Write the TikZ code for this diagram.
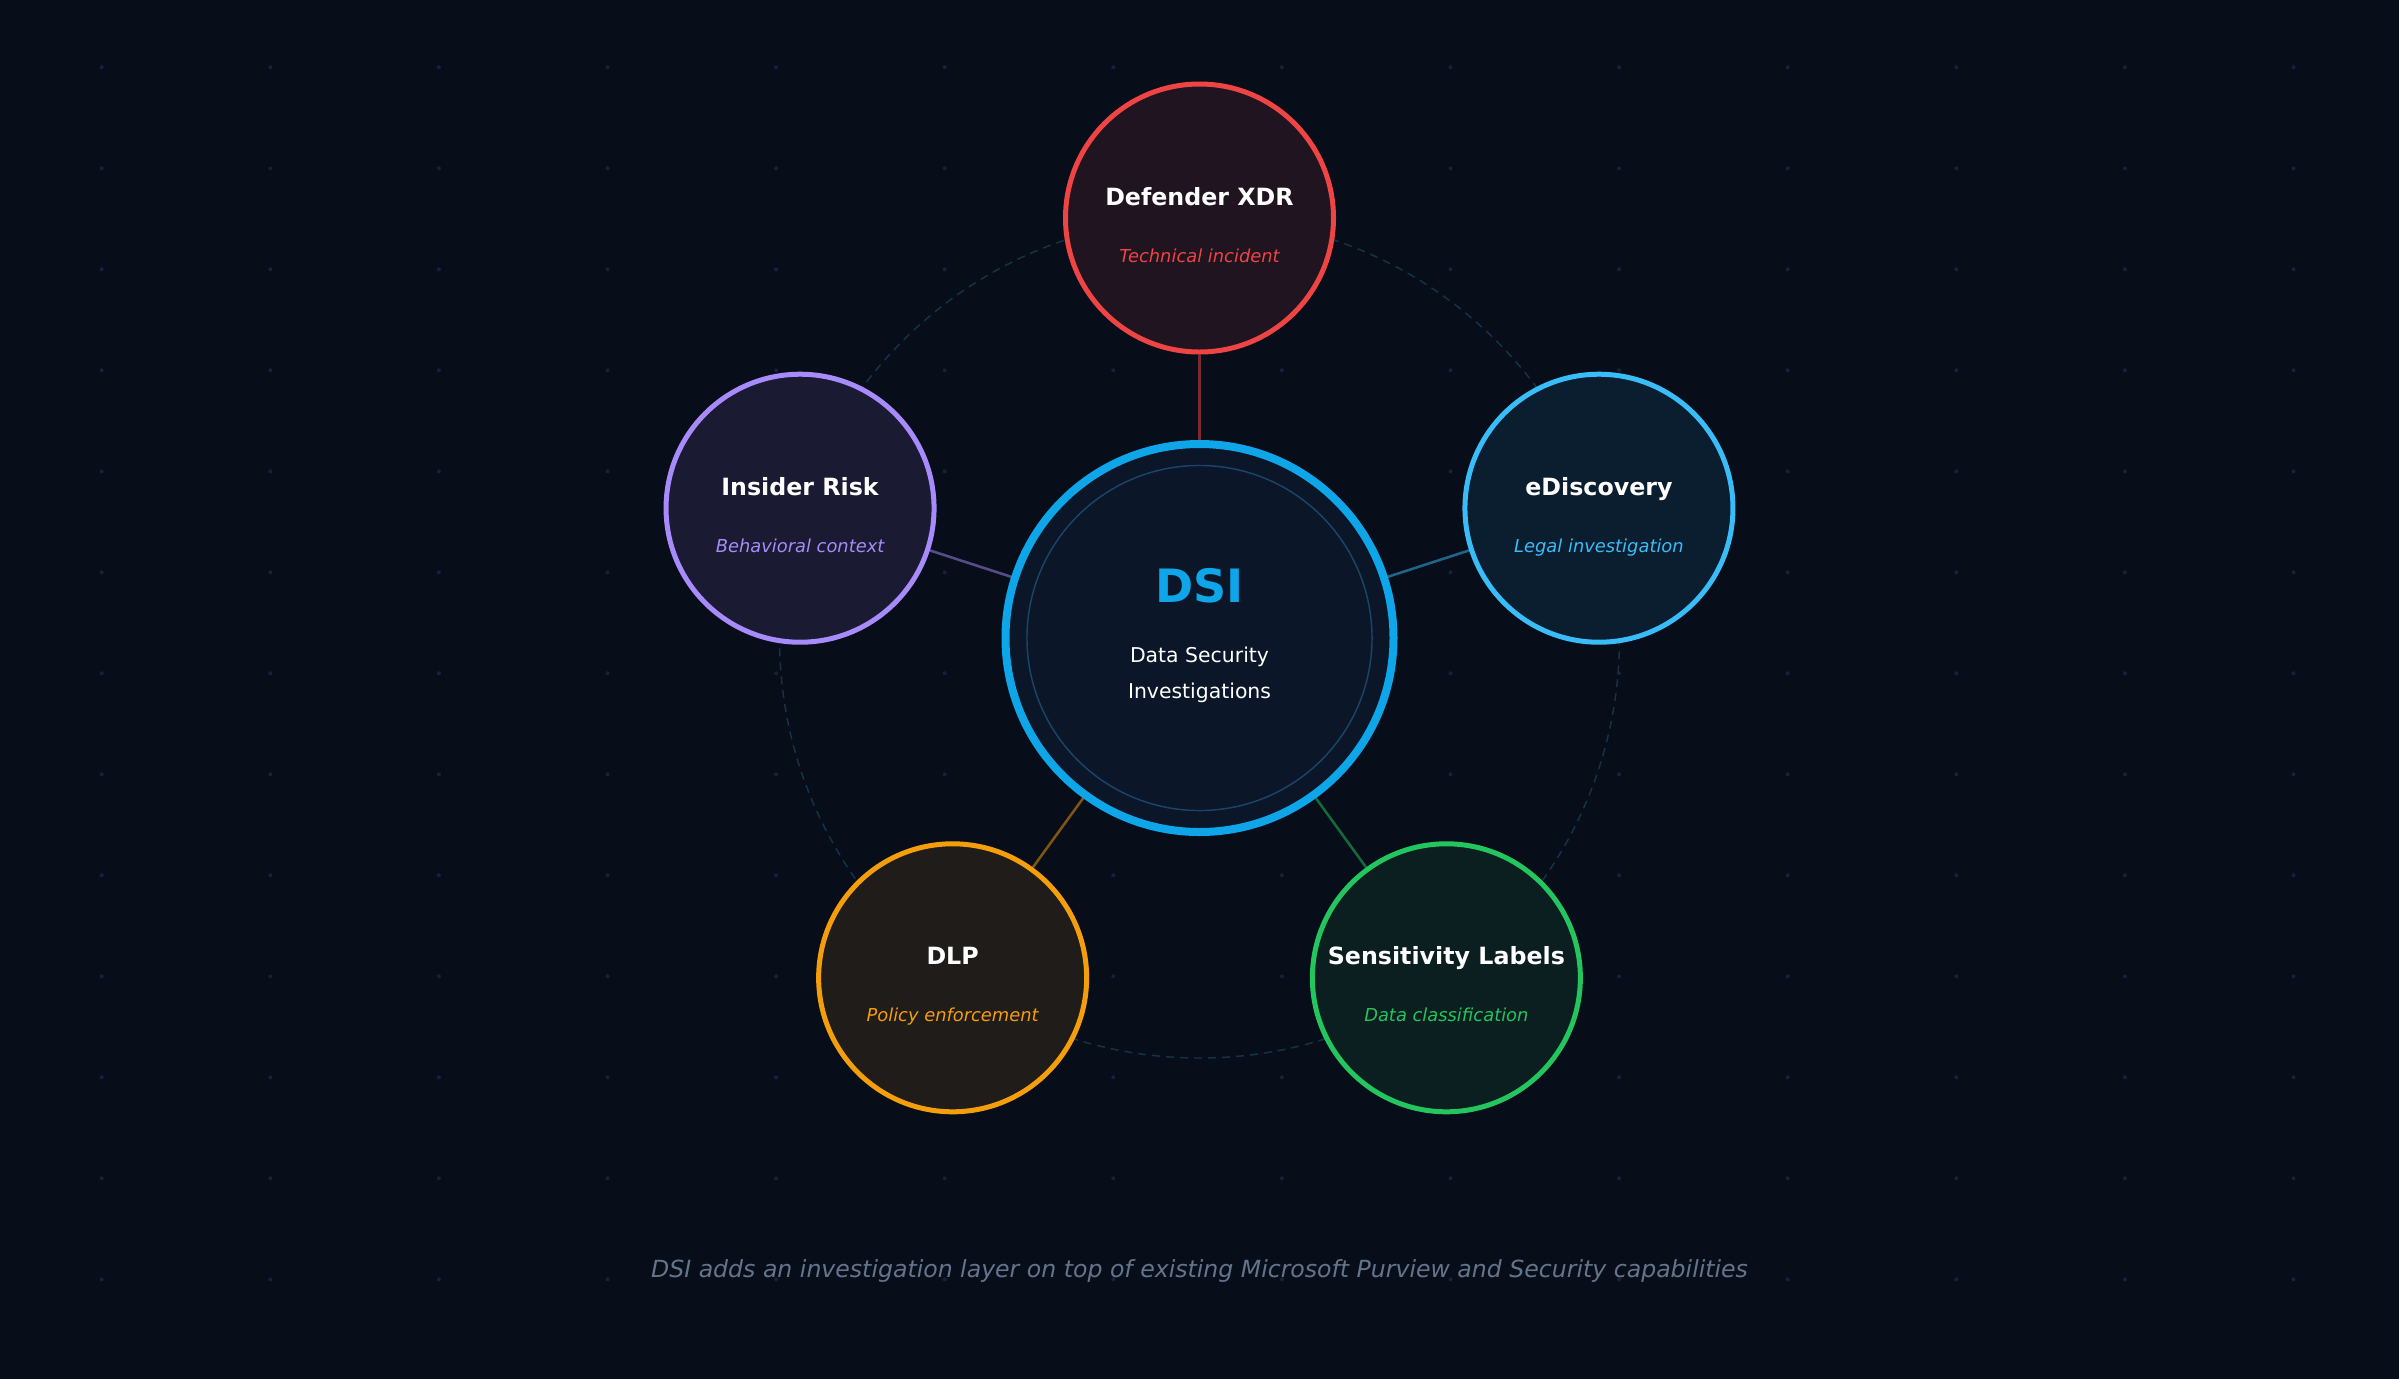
\documentclass[tikz,border=0pt]{standalone}
\usepackage{fontspec}
\setmainfont{DejaVu Sans}[BoldFont={DejaVu Sans Bold}, ItalicFont={DejaVu Sans Oblique}]
\definecolor{bgdark}{HTML}{080D1A}
\definecolor{griddot}{HTML}{16223A}
\definecolor{ringdash}{HTML}{163247}
\definecolor{dsiblue}{HTML}{0EA5E9}
\definecolor{dsifill}{HTML}{0B1628}
\definecolor{dsiinner}{HTML}{1B4468}
\definecolor{xdrred}{HTML}{EF4444}
\definecolor{xdrfill}{HTML}{1F141F}
\definecolor{irpurple}{HTML}{A78BFA}
\definecolor{irfill}{HTML}{1A1A33}
\definecolor{edblue}{HTML}{38BDF8}
\definecolor{edfill}{HTML}{0B1E30}
\definecolor{dlporange}{HTML}{F59E0B}
\definecolor{dlpfill}{HTML}{201C1A}
\definecolor{slgreen}{HTML}{22C55E}
\definecolor{slfill}{HTML}{0B1F20}
\definecolor{captiongray}{HTML}{64748B}

\begin{document}
\begin{tikzpicture}[x=0.75pt, y=-0.75pt,
  sat/.style={circle, minimum size=201pt, inner sep=0pt, line width=3.75pt},
  sattitle/.style={anchor=base, text=white, font=\fontsize{17.8}{21}\selectfont\bfseries},
  satsub/.style={anchor=base, font=\fontsize{13.4}{16}\selectfont\itshape},
  dsitext/.style={anchor=base, text=white, font=\fontsize{15.3}{18}\selectfont},
  link/.style={line width=1.9pt, draw opacity=0.5}]
\fill[bgdark] (0,0) rectangle (2399,1379);
\foreach \i in {0,...,13}
  \foreach \j in {0,...,12}
    \fill[griddot] (101.7+168.6*\i, 67.3+101*\j) circle (1.5pt);
\draw[ringdash, line width=1.1pt, dash pattern=on 6pt off 4.5pt] (1199.5,638) circle (315pt);
\node[circle, minimum size=291pt, inner sep=0pt, draw=dsiblue, fill=dsifill, line width=6pt] (dsi) at (1199.5,638) {};
\draw[dsiinner, line width=1.1pt] (dsi.center) circle (129.4pt);
\node[anchor=base, text=dsiblue, font=\fontsize{34.5}{40}\selectfont\bfseries] (dsi-t) at ([yshift=27pt]dsi.center) {DSI};
\node[dsitext] (dsi-s1) at ([yshift=-18pt]dsi.center) {Data Security};
\node[dsitext] (dsi-s2) at ([yshift=-45pt]dsi.center) {Investigations};
\foreach \name/\ang/\col/\fil/\title/\sub in {
    xdr/-90/xdrred/xdrfill/Defender XDR/Technical incident,
    ed/-18/edblue/edfill/eDiscovery/Legal investigation,
    sl/54/slgreen/slfill/Sensitivity Labels/Data classification,
    dlp/126/dlporange/dlpfill/DLP/Policy enforcement,
    ir/198/irpurple/irfill/Insider Risk/Behavioral context} {
  \node[sat, draw=\col, fill=\fil] (\name) at ([shift={(\ang:420)}]dsi.center) {};
  \draw[link, \col] (\name) -- (dsi);
  \node[sattitle] (\name-t) at ([yshift=9.75pt]\name.center) {\title};
  \node[satsub, text=\col] (\name-s) at ([yshift=-33pt]\name.center) {\sub};
}
\node[anchor=base, text=captiongray, font=\fontsize{17.7}{21}\selectfont\itshape] (caption) at (1199.5,1277) {DSI adds an investigation layer on top of existing Microsoft Purview and Security capabilities};
\end{tikzpicture}
\end{document}
